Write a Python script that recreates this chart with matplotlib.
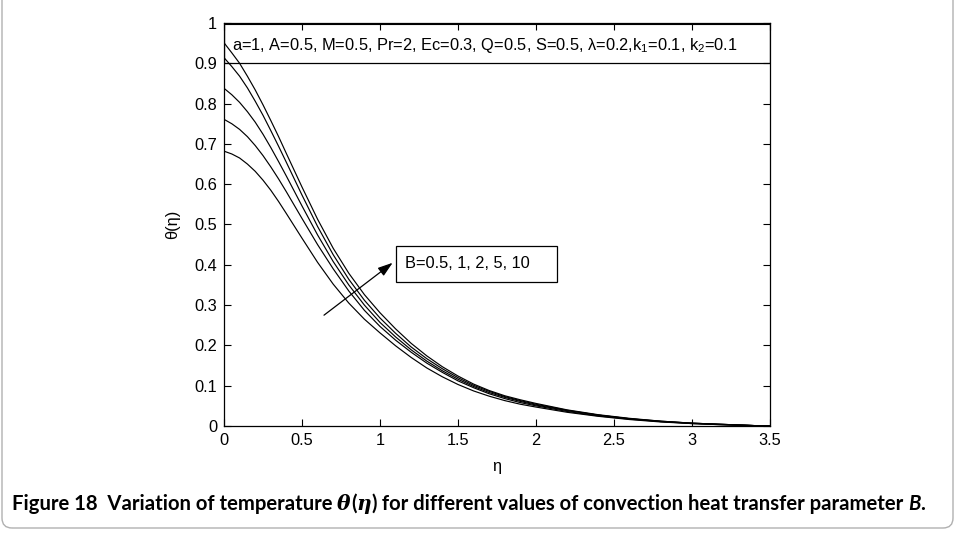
import matplotlib
matplotlib.use('Agg')
import matplotlib.pyplot as plt
from matplotlib.patches import Rectangle, FancyBboxPatch
from matplotlib.ticker import MultipleLocator, FuncFormatter

plt.rcParams['font.family'] = ['Liberation Sans', 'DejaVu Sans']
plt.rcParams['mathtext.fontset'] = 'custom'
plt.rcParams['mathtext.rm'] = 'Liberation Sans'
plt.rcParams['mathtext.it'] = 'Liberation Sans:italic'

# eta grid
eta = [0.0, 0.05, 0.1, 0.15, 0.2, 0.25, 0.3, 0.35, 0.4, 0.5, 0.6, 0.7, 0.8, 0.9, 1.0,
       1.1, 1.2, 1.3, 1.4, 1.5, 1.6, 1.7, 1.8, 1.9, 2.0,
       2.2, 2.4, 2.6, 2.8, 3.0, 3.2, 3.4, 3.5]

theta_B05 = [0.682, 0.675, 0.665, 0.650, 0.632, 0.610, 0.585, 0.557, 0.527,
             0.466, 0.406, 0.352, 0.305, 0.265, 0.231,
             0.199, 0.170, 0.144, 0.122, 0.103, 0.087, 0.074, 0.063, 0.054, 0.047,
             0.034, 0.024, 0.016, 0.010, 0.006, 0.003, 0.001, 0.0]
theta_B1 = [0.761, 0.750, 0.736, 0.718, 0.696, 0.671, 0.643, 0.613, 0.581,
            0.515, 0.450, 0.390, 0.335, 0.287, 0.247,
            0.213, 0.183, 0.156, 0.133, 0.112, 0.095, 0.080, 0.068, 0.058, 0.050,
            0.036, 0.025, 0.017, 0.011, 0.006, 0.003, 0.001, 0.0]
theta_B2 = [0.838, 0.822, 0.803, 0.780, 0.754, 0.724, 0.691, 0.656, 0.620,
            0.546, 0.474, 0.408, 0.350, 0.300, 0.257,
            0.221, 0.189, 0.161, 0.137, 0.116, 0.098, 0.083, 0.071, 0.061, 0.052,
            0.038, 0.027, 0.018, 0.011, 0.007, 0.004, 0.001, 0.0]
theta_B5 = [0.914, 0.892, 0.868, 0.839, 0.806, 0.771, 0.733, 0.694, 0.654,
            0.573, 0.495, 0.425, 0.364, 0.312, 0.268,
            0.230, 0.196, 0.167, 0.142, 0.120, 0.101, 0.086, 0.073, 0.063, 0.054,
            0.039, 0.027, 0.018, 0.012, 0.007, 0.004, 0.001, 0.0]
theta_B10 = [0.951, 0.926, 0.900, 0.868, 0.834, 0.797, 0.758, 0.718, 0.676,
             0.593, 0.513, 0.441, 0.379, 0.326, 0.281,
             0.241, 0.205, 0.174, 0.147, 0.124, 0.104, 0.088, 0.075, 0.065, 0.056,
             0.040, 0.028, 0.019, 0.012, 0.007, 0.004, 0.001, 0.0]

header = 'a=1, A=0.5, M=0.5, Pr=2, Ec=0.3, Q=0.5, S=0.5, λ=0.2,k$_1$=0.1, k$_2$=0.1'
b_label = 'B=0.5, 1, 2, 5, 10'

fs = 11.8

fig = plt.figure(figsize=(9.56, 5.35), dpi=100)
ax = fig.add_axes([224 / 956, 1 - 426 / 535, 546 / 956, 403 / 535])

for th in [theta_B05, theta_B1, theta_B2, theta_B5, theta_B10]:
    ax.plot(eta, th, color='k', lw=0.85)

ax.set_xlim(0, 3.5)
ax.set_ylim(0, 1)
ax.xaxis.set_major_locator(MultipleLocator(0.5))
ax.yaxis.set_major_locator(MultipleLocator(0.1))
fmt = FuncFormatter(lambda v, p: '%g' % round(v, 2))
ax.xaxis.set_major_formatter(fmt)
ax.yaxis.set_major_formatter(fmt)
ax.tick_params(direction='in', top=True, right=True, length=5, width=0.8,
               labelsize=fs, pad=5)
for s in ax.spines.values():
    s.set_linewidth(0.9)

ax.set_xlabel('η', fontsize=fs, labelpad=8)
ax.set_ylabel('θ(η)', fontsize=fs, labelpad=10)

# parameter box across the top
ax.add_patch(Rectangle((0, 0.9), 3.5, 0.1, fill=False, ec='k', lw=0.9))
ax.plot([0, 3.5], [0.997, 0.997], color='k', lw=0.8)
ax.text(0.05, 0.943, header, fontsize=fs, va='center')

# B label box and arrow
ax.add_patch(Rectangle((1.103, 0.358), 1.032, 0.089, facecolor='white', ec='k', lw=0.9))
ax.text(1.16, 0.402, b_label, fontsize=fs, va='center')
ax.annotate('', xy=(1.081, 0.405), xytext=(0.641, 0.275),
            arrowprops=dict(arrowstyle='-|>,head_length=0.9,head_width=0.3',
                            color='k', lw=0.9, shrinkA=0, shrinkB=0))

# rounded frame around the figure
frame = FancyBboxPatch((2, 7), 951, 560, boxstyle='round,pad=0,rounding_size=10',
                       transform=None, fill=False, ec='#b0b0b0', lw=1.0)
fig.patches.append(frame)

# caption with mixed styles, pieces chained one after another
pieces = [('Figure 18  Variation of temperature ', 'Lato', 'normal'),
          ('θ', 'DejaVu Serif', 'italic'),
          ('(', 'Lato', 'normal'),
          ('η', 'DejaVu Serif', 'italic'),
          (')', 'Lato', 'normal'),
          (' for different values of convection heat transfer parameter ', 'Lato', 'normal'),
          ('B', 'Lato', 'italic'),
          ('.', 'Lato', 'normal')]
cap_fs = 14.6
prev = fig.text(12 / 956, 1 - 514 / 535, pieces[0][0], fontsize=cap_fs, fontweight='bold',
                family=pieces[0][1], style=pieces[0][2], va='bottom')
for txt, fam, sty in pieces[1:]:
    prev = ax.annotate(txt, xy=(1, 0), xycoords=prev, va='bottom', ha='left',
                       fontsize=cap_fs, fontweight='bold', family=fam, style=sty,
                       annotation_clip=False)

fig.savefig('out.png', dpi=100)
